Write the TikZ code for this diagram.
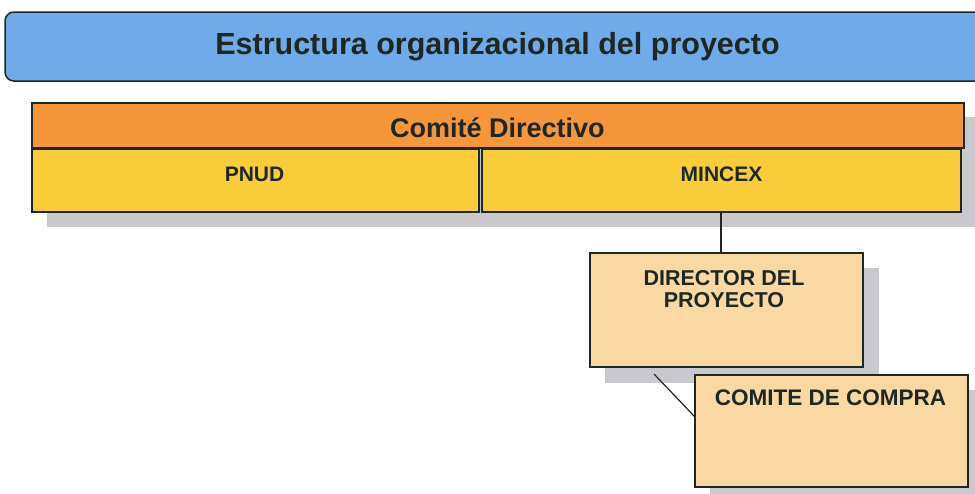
\documentclass[tikz,border=0pt]{standalone}
\usepackage{fontspec}
\setmainfont{Liberation Sans}
\usetikzlibrary{calc}
\definecolor{titleblue}{RGB}{112,170,232}
\definecolor{orgorange}{RGB}{246,150,58}
\definecolor{orgyellow}{RGB}{249,204,58}
\definecolor{orgbeige}{RGB}{249,216,164}
\definecolor{shadowgray}{RGB}{200,200,206}
\definecolor{inkdark}{RGB}{30,40,34}
\tikzset{
  boxbase/.style={draw=inkdark, line width=1.5pt, anchor=north west, inner sep=0pt, outer sep=0pt},
  lbl/.style={anchor=base, inner sep=0pt, text=inkdark, font=\bfseries},
  shadowbox/.style={fill=shadowgray, draw=none},
  conn/.style={draw=inkdark, line width=1.2pt}
}
\begin{document}
\begin{tikzpicture}[x=1pt,y=-1pt]
\useasboundingbox (0,0) rectangle (975,493);
\fill[white] (0,0) rectangle (975,493);
% title
\node[boxbase, fill=titleblue, rounded corners=9pt, minimum width=990pt, minimum height=69pt] (title) at (5,12) {};
\node[lbl, font=\bfseries\fontsize{30.5}{32}\selectfont] (titletext) at (497.5,54) {Estructura organizacional del proyecto};
% shadows
\fill[shadowbox] (47,117) rectangle (980,227);
\fill[shadowbox] (605,268) rectangle (879,383);
\fill[shadowbox] (710,390) rectangle (985,505);
% committee
\node[boxbase, fill=orgorange, minimum width=932pt, minimum height=45pt] (cd) at (32,103) {};
\node[boxbase, fill=orgyellow, minimum width=447pt, minimum height=63pt] (pnud) at (32,149) {};
\node[boxbase, fill=orgyellow, minimum width=479pt, minimum height=63pt] (mincex) at (482,149) {};
\node[lbl, font=\bfseries\fontsize{27}{28}\selectfont] (cdtext) at (497.5,137) {Comité Directivo};
\node[lbl, font=\bfseries\fontsize{21}{22}\selectfont] (pnudtext) at (254.5,181) {PNUD};
\node[lbl, font=\bfseries\fontsize{21}{22}\selectfont] (mincextext) at (721.5,181) {MINCEX};
% director and comite
\node[boxbase, fill=orgbeige, minimum width=273pt, minimum height=114pt] (dir) at (590,253) {};
\node[boxbase, fill=orgbeige, minimum width=273pt, minimum height=112pt] (comite) at (695,375) {};
\node[lbl, font=\bfseries\fontsize{21.5}{22}\selectfont] (dirtext1) at (724,285) {DIRECTOR DEL};
\node[lbl, font=\bfseries\fontsize{21.5}{22}\selectfont] (dirtext2) at (724,307) {PROYECTO};
\node[lbl, font=\bfseries\fontsize{22.5}{24}\selectfont] (comitetext) at (830.5,405) {COMITE DE COMPRA};
% connectors
\coordinate (dirout) at (654,374);
\draw[conn] (721,212) coordinate (minout) -- (minout |- dir.north);
\draw[conn] (dirout) -- ($(comite.north west)!0.375!(comite.south west)$);
\end{tikzpicture}
\end{document}
